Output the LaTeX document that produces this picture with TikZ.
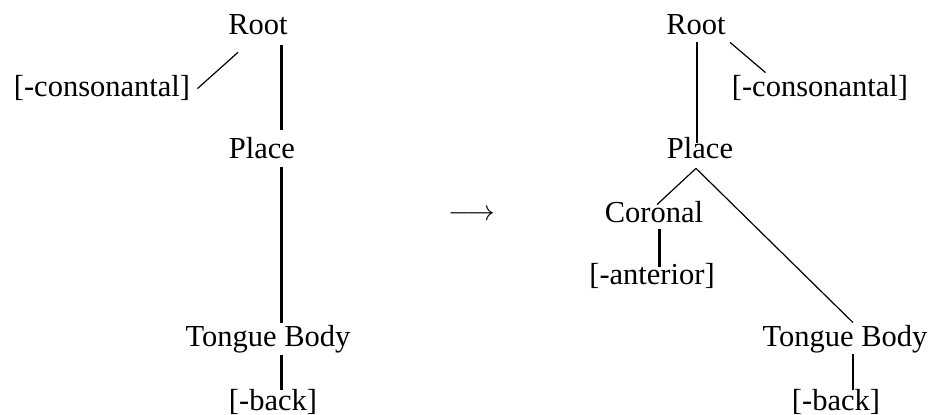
\documentclass[tikz,border=0pt]{standalone}
\usepackage{fontspec}
\setmainfont{Liberation Serif}
\usepackage{amsmath}
\usetikzlibrary{calc}

\begin{document}
\begin{tikzpicture}[
        x=0.5pt, y=-0.5pt,
        every node/.style={font=\fontsize{15.25}{18}\selectfont},
        feature/.style={inner sep=0pt, text height=10pt, text depth=0pt, anchor=base},
        heavy_link/.style={line width=1.5pt, black},
        mid_link/.style={line width=1pt, black},
        thin_link/.style={line width=0.6pt, black}
        ]
        \useasboundingbox (0,0) rectangle (933,415);

        % Left tree
        \node[feature] (rootL) at (258,35) {Root};
        \node[feature] (consL) at (102,97) {[-consonantal]};
        \node[feature] (placeL) at (262,159) {Place};
        \node[feature] (tbL) at (268,347) {Tongue Body};
        \node[feature] (backL) at (273,411) {[-back]};
        \coordinate (spineL) at (281,0);

        \draw[thin_link] ($(rootL.south west)+(10,17)$) -- ($(consL.north east)+(7,12)$);
        \draw[heavy_link, shorten <=5pt, shorten >=4.5pt] (rootL.south -| spineL) -- (placeL.north -| spineL);
        \draw[heavy_link, shorten <=4pt, shorten >=2pt] (placeL.south -| spineL) -- (tbL.north -| spineL);
        \draw[heavy_link, shorten <=4pt, shorten >=0.5pt] (tbL.south -| spineL) -- (backL.north -| spineL);

        % Arrow
        \node (arrow) at (472,215) {$\longrightarrow$};

        % Right tree
        \node[feature] (rootR) at (696,35) {Root};
        \node[feature] (consR) at (820,97) {[-consonantal]};
        \node[feature] (placeR) at (700,159) {Place};
        \node[feature] (corR) at (654,223) {Coronal};
        \node[feature] (antR) at (652,285) {[-anterior]};
        \node[feature] (tbR) at (845,347) {Tongue Body};
        \node[feature] (backR) at (836,411) {[-back]};
        \coordinate (spineR) at (697,0);
        \coordinate (corSpine) at (659,0);
        \coordinate (tbSpine) at (853,0);

        \draw[mid_link, shorten <=3.5pt, shorten >=-2pt] (rootR.south -| spineR) -- (placeR.north -| spineR);
        \draw[thin_link] ($(rootR.south east)+(4,7)$) -- ($(consR.north west)+(34,-4)$);
        \coordinate (apex) at ($(placeR.south)+(-4,9)$);
        \draw[thin_link] (apex) -- ($(corR.north)+(3,2)$);
        \draw[thin_link] (apex) -- ($(tbR.north)+(8,-4)$);
        \draw[heavy_link, shorten <=3pt, shorten >=-1pt] (corR.south -| corSpine) -- (antR.north -| corSpine);
        \draw[mid_link, shorten <=3.5pt, shorten >=0.5pt] (tbR.south -| tbSpine) -- (backR.north -| tbSpine);

    \end{tikzpicture}
\end{document}
